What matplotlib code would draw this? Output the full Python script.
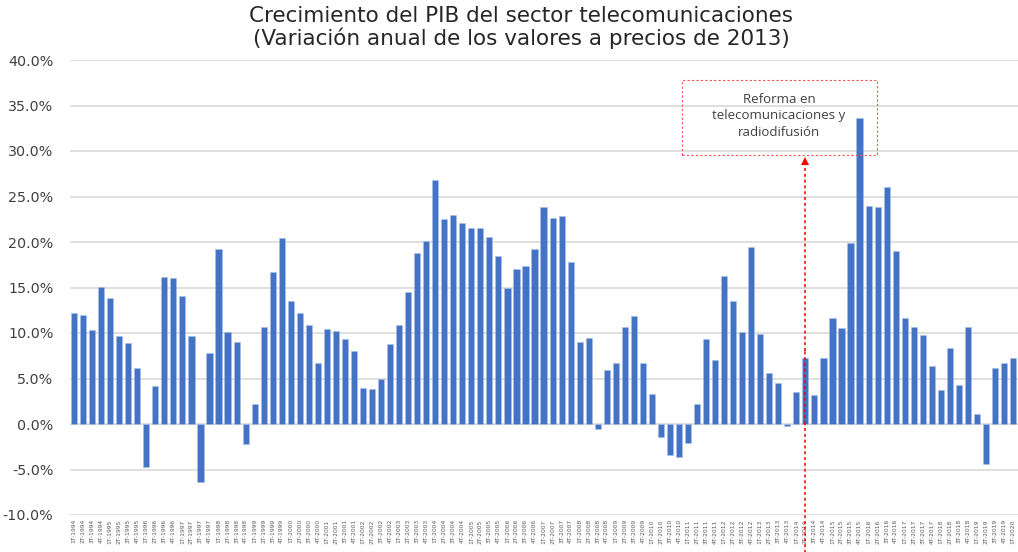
import matplotlib
matplotlib.use("Agg")
import matplotlib.pyplot as plt
from matplotlib.patches import Rectangle
from matplotlib.ticker import FuncFormatter, MultipleLocator

years = list(range(1994, 2021))
quarters = ["1T", "2T", "3T", "4T"]
labels = [f"{q}-{y}" for y in years for q in quarters][:105]

values = [
    12.2, 12.0, 10.3, 15.1,
    13.9, 9.7, 8.9, 6.1,
    -4.7, 4.2, 16.1, 16.0,
    14.1, 9.7, -6.4, 7.8,
    19.2, 10.1, 9.0, -2.2,
    2.2, 10.7, 16.7, 20.4,
    13.5, 12.2, 10.9, 6.7,
    10.4, 10.2, 9.3, 8.0,
    4.0, 3.8, 4.9, 8.8,
    10.9, 14.5, 18.8, 20.1,
    26.8, 22.5, 23.0, 22.1,
    21.5, 21.5, 20.5, 18.5,
    15.0, 17.0, 17.4, 19.2,
    23.9, 22.6, 22.9, 17.8,
    9.0, 9.5, -0.6, 5.9,
    6.7, 10.7, 11.9, 6.7,
    3.3, -1.4, -3.4, -3.6,
    -2.1, 2.2, 9.3, 7.0,
    16.3, 13.5, 10.1, 19.4,
    9.9, 5.6, 4.5, -0.2,
    3.5, 7.3, 3.2, 7.3,
    11.7, 10.6, 19.9, 33.6,
    24.0, 23.8, 26.0, 19.0,
    11.6, 10.7, 9.8, 6.4,
    3.7, 8.4, 4.3, 10.7,
    1.1, -4.4, 6.1, 6.7,
    7.3,
]

title = "Crecimiento del PIB del sector telecomunicaciones\n(Variación anual de los valores a precios de 2013)"
note = "Reforma en\ntelecomunicaciones y\nradiodifusión"
reform_label = "2T-2014"

W, H = 1018, 552
fig = plt.figure(figsize=(W / 100, H / 100), dpi=100)
ax = fig.add_axes([70 / W, 1 - 515 / H, (1018 - 70) / W, (515 - 60) / H])

x = list(range(len(values)))
ax.bar(x, values, width=0.68, color="#4472C4", edgecolor="#A9C0E8", linewidth=0.4, zorder=3)

ax.set_xlim(-0.45, 104.55)
ax.set_ylim(-10, 40)
ax.yaxis.set_major_locator(MultipleLocator(5))
ax.yaxis.set_major_formatter(FuncFormatter(lambda v, p: f"{v:.1f}%"))
ax.grid(axis="y", color="#D9D9D9", linewidth=1.2, zorder=0)
for s in ax.spines.values():
    s.set_visible(False)
ax.tick_params(axis="y", length=0, labelsize=10.3, colors="#404040", pad=12)
ax.set_xticks(x)
ax.set_xticklabels(labels, rotation=90, fontsize=4.3, color="#595959")
ax.tick_params(axis="x", length=0, pad=3)

fig.text(0.512, 0.99, title, ha="center", va="top", fontsize=15.5, color="#262626",
         linespacing=1.1)

# annotation: dotted red line split into segments, plus arrow head pointing at the box
xr = labels.index(reform_label)
for y0, y1 in [(-24.5, 0.0), (0.0, 8.0), (8.0, 28.6)]:
    ax.plot([xr, xr], [y0, y1], color="#EE0000", lw=1.1, linestyle=(0, (2.0, 1.8)),
            clip_on=False, zorder=7, solid_capstyle="butt", dash_capstyle="butt")
ax.plot([xr], [28.9], marker="^", markersize=6, color="#FF0000", clip_on=False,
        zorder=7, markeredgewidth=0)
box = Rectangle((682 / W, 1 - 155 / H), (877 - 682) / W, (155 - 80) / H,
                transform=fig.transFigure, fill=False, edgecolor="#FF5050",
                linestyle=(0, (2, 2)), linewidth=0.8)
fig.add_artist(box)
fig.text(779 / W, 1 - 116 / H, note, ha="center", va="center", fontsize=9.5,
         color="#404040", family="Open Sans", linespacing=1.35)

fig.savefig("out.png", dpi=100)
